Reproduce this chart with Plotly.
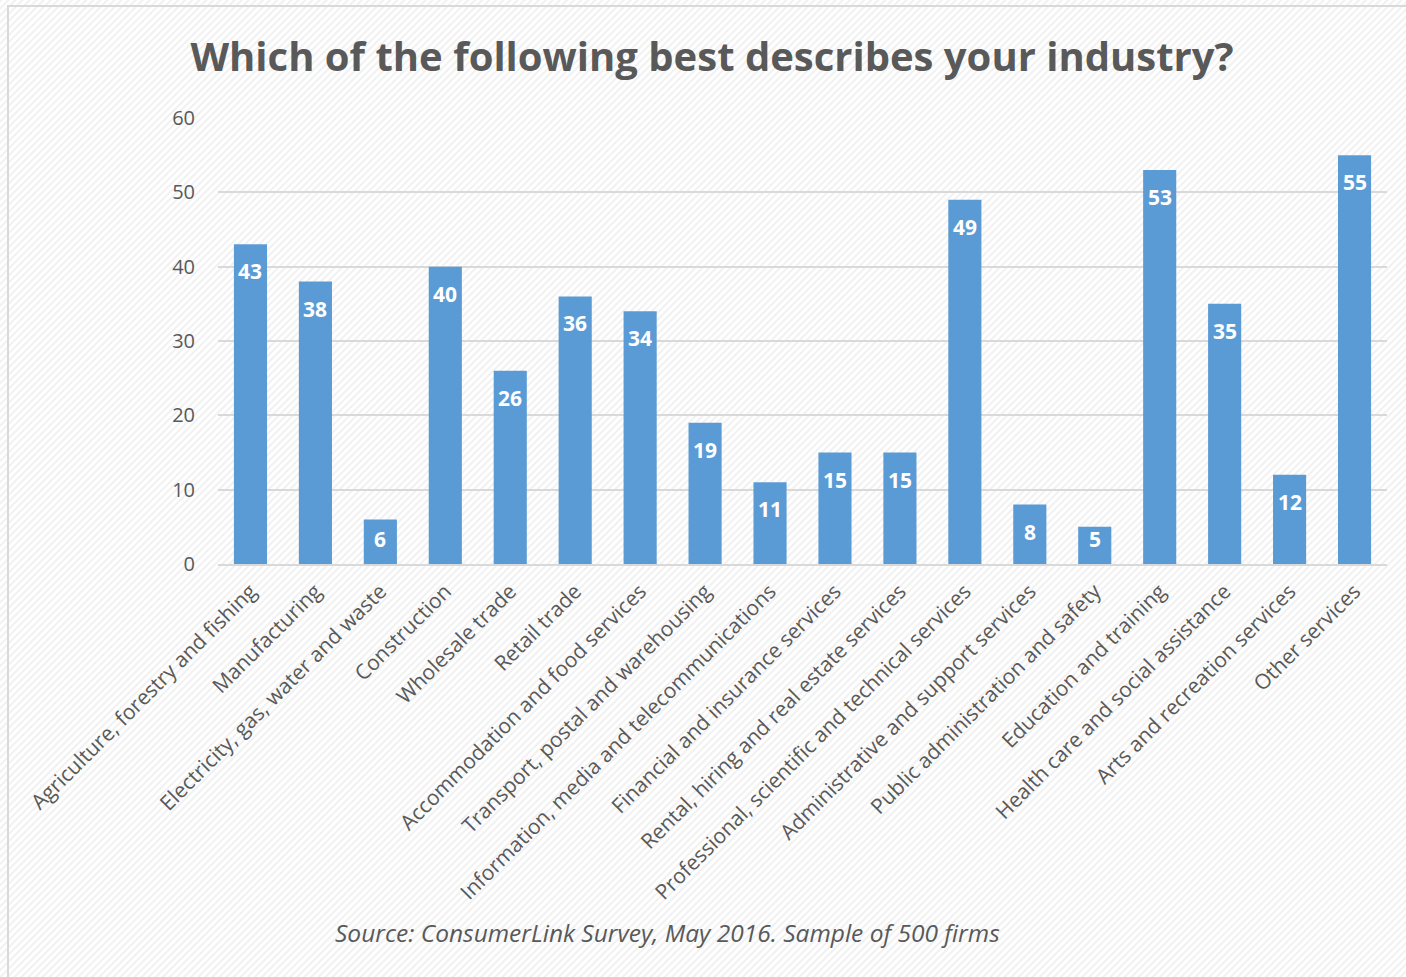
import base64
import plotly.graph_objects as go

industries = [
    "Agriculture, forestry and fishing",
    "Manufacturing",
    "Electricity, gas, water and waste",
    "Construction",
    "Wholesale trade",
    "Retail trade",
    "Accommodation and food services",
    "Transport, postal and warehousing",
    "Information, media and telecommunications",
    "Financial and insurance services",
    "Rental, hiring and real estate services",
    "Professional, scientific and technical services",
    "Administrative and support services",
    "Public administration and safety",
    "Education and training",
    "Health care and social assistance",
    "Arts and recreation services",
    "Other services",
]
responses = [43, 38, 6, 40, 26, 36, 34, 19, 11, 15, 15, 49, 8, 5, 53, 35, 12, 55]
y_ticks = [0, 10, 20, 30, 40, 50, 60]

W, H = 1406, 977
L, R, T, B = 218, 19, 118, 413
pw, ph = W - L - R, H - T - B
y_max = 60

# diagonal hatch texture for the chart background
hatch_svg = f"""<svg xmlns='http://www.w3.org/2000/svg' width='{W}' height='{H}'>
<defs><pattern id='h' width='5' height='5' patternUnits='userSpaceOnUse' patternTransform='rotate(45)'>
<rect width='5' height='5' fill='#ffffff'/><rect width='2' height='5' fill='#f1f1f1'/></pattern></defs>
<rect width='{W}' height='{H}' fill='url(#h)'/></svg>"""
hatch_uri = "data:image/svg+xml;base64," + base64.b64encode(hatch_svg.encode()).decode()

def px_x(p):
    return (p - L) / pw

def px_y(p):
    return (H - B - p) / ph

font = "Open Sans, Calibri, sans-serif"
grey = "#595959"

fig = go.Figure(
    go.Bar(
        x=industries,
        y=responses,
        marker=dict(color="#5b9bd5", line=dict(width=0)),
        hoverinfo="x+y",
    )
)

# value labels just below the top of each bar (kept inside short bars)
value_labels = []
for cat, val in zip(industries, responses):
    bar_px = val / y_max * ph
    value_labels.append(
        dict(
            x=cat,
            y=val,
            xref="x",
            yref="y",
            text=f"<b>{val}</b>",
            showarrow=False,
            yanchor="middle",
            yshift=-min(27, bar_px - 25),
            font=dict(family=font, size=21, color="white"),
        )
    )

fig.update_layout(
    width=W,
    height=H,
    margin=dict(l=L, r=R, t=T, b=B),
    paper_bgcolor="white",
    plot_bgcolor="rgba(0,0,0,0)",
    bargap=0.49,
    showlegend=False,
    font=dict(family=font, color=grey),
    title=dict(
        text="<b>Which of the following best describes your industry?</b>",
        x=712 / W,
        xanchor="center",
        y=1 - 57 / H,
        yanchor="middle",
        font=dict(family=font, size=40, color=grey),
    ),
    xaxis=dict(
        tickangle=-45,
        tickfont=dict(family=font, size=21, color=grey),
        showgrid=False,
        showline=True,
        linecolor="#d9d9d9",
        linewidth=1.5,
        ticks="",
        ticklabelstandoff=5,
    ),
    yaxis=dict(
        range=[0, y_max],
        tickvals=y_ticks,
        tickfont=dict(family=font, size=20, color=grey),
        showgrid=True,
        gridcolor="#d9d9d9",
        gridwidth=1.5,
        zeroline=False,
        showline=False,
        ticks="",
        ticklabelstandoff=22,
    ),
    images=[
        dict(
            source=hatch_uri,
            xref="paper",
            yref="paper",
            x=px_x(0),
            y=px_y(0),
            sizex=W / pw,
            sizey=H / ph,
            xanchor="left",
            yanchor="top",
            sizing="stretch",
            layer="below",
        )
    ],
    shapes=[
        dict(
            type="rect",
            xref="paper",
            yref="paper",
            x0=px_x(8),
            y0=px_y(990),
            x1=px_x(1420),
            y1=px_y(6),
            line=dict(color="#d9d9d9", width=2),
            fillcolor="rgba(0,0,0,0)",
            layer="below",
        )
    ],
    annotations=value_labels + [
        dict(
            text="<i>Source: ConsumerLink Survey, May 2016. Sample of 500 firms</i>",
            xref="paper",
            yref="paper",
            x=px_x(667),
            y=px_y(932),
            xanchor="center",
            yanchor="middle",
            showarrow=False,
            font=dict(family=font, size=24.5, color=grey),
        )
    ],
)

fig.write_html("out.html")
